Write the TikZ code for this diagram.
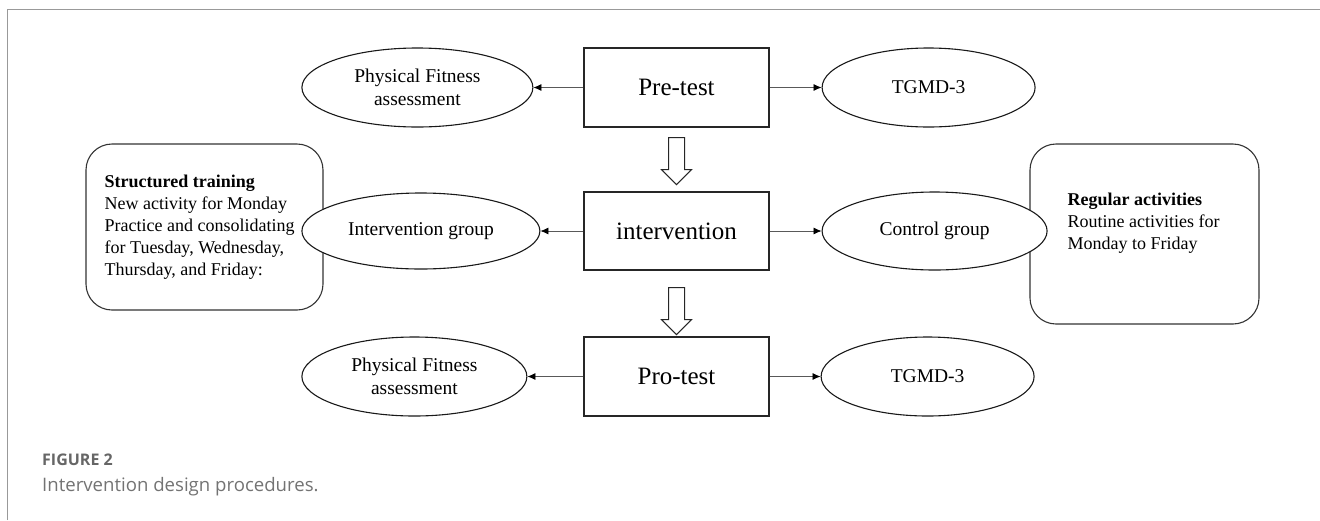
\documentclass[tikz,border=0pt]{standalone}
\usepackage{fontspec}
\setmainfont{Liberation Serif}
\newfontfamily\capfont{Open Sans}
\usetikzlibrary{positioning, arrows.meta, shapes.geometric, calc}

\begin{document}
\begin{tikzpicture}[
    x=1pt, y=-1pt,
    node distance=50pt,
    stage/.style={
        draw=black!85,
        line width=1.1pt,
        rectangle,
        minimum width=185pt,
        minimum height=79pt,
        inner sep=0pt,
        font=\fontsize{25}{30}\selectfont
    },
    oval/.style={
        draw=black!90,
        line width=1.1pt,
        ellipse,
        fill=white,
        inner sep=0pt,
        minimum height=79pt,
        align=center,
        font=\fontsize{19.5}{23}\selectfont
    },
    note/.style={
        draw=black!80,
        line width=1.1pt,
        rectangle,
        rounded corners=26pt,
        inner sep=0pt
    },
    notetext/.style={
        align=left,
        inner sep=0pt,
        font=\fontsize{18}{22}\selectfont
    },
    line/.style={
        draw=black!65,
        line width=0.8pt,
        -{Latex[length=8pt,width=7pt,color=black]}
    },
    hollow/.style={
        draw=black!85,
        line width=1pt,
        fill=white,
        line join=miter
    }
]
\useasboundingbox (0,0) rectangle (1320,520);

% --- Frame ---
\draw[black!40, line width=1pt] (7,520) -- (7,9) -- (1320,9);

% --- Side notes (behind the group ovals) ---
\node[note, minimum width=237pt, minimum height=166pt] (train) at (204.5,227) {};
\node[note, minimum width=229pt, minimum height=180pt] (regular) at (1144.5,234) {};

\node[notetext, right=19pt of train.west] (traintext) {\textbf{Structured training}\\New activity for Monday\\Practice and consolidating\\for Tuesday, Wednesday,\\Thursday, and Friday:};
\node[notetext, right=38pt of regular.west, yshift=11pt] (regulartext) {\textbf{Regular activities}\\Routine activities for\\Monday to Friday};

% --- Main stages ---
\node[stage] (pretest) at (676.5,87.5) {Pre-test};
\node[stage, minimum height=78pt] (interv) at (676.5,231) {intervention};
\node[stage] (protest) at (676.5,376.5) {Pro-test};

% --- Measures and groups ---
\node[oval, minimum width=231pt, left=50pt of pretest] (fit1) {Physical Fitness\\assessment};
\node[oval, minimum width=213pt, right=52pt of pretest] (tgmd1) {TGMD-3};

\node[oval, minimum width=238pt, minimum height=76pt, left=43pt of interv] (igroup) {Intervention group};
\node[oval, minimum width=225pt, minimum height=78pt, right=52pt of interv] (cgroup) {Control group};

\node[oval, minimum width=225pt, left=56pt of protest] (fit2) {Physical Fitness\\assessment};
\node[oval, minimum width=213pt, right=51pt of protest] (tgmd2) {TGMD-3};

% --- Connections ---
\draw[line] (pretest) -- (fit1);
\draw[line] (pretest) -- (tgmd1);
\draw[line] (interv) -- (igroup);
\draw[line] (interv) -- (cgroup);
\draw[line] (protest) -- (fit2);
\draw[line] (protest) -- (tgmd2);

% Block arrows between stages
\draw[hollow] ([xshift=-8pt]pretest.south) ++(0,10) -- ++(16,0) -- ++(0,32) -- ++(7,0) -- ++(-15,15) -- ++(-15,-15) -- ++(7,0) -- cycle;
\draw[hollow] ([xshift=-8pt]interv.south) ++(0,17) -- ++(16,0) -- ++(0,32) -- ++(7,0) -- ++(-15,15) -- ++(-15,-15) -- ++(7,0) -- cycle;

% --- Caption ---
\node[anchor=west, inner sep=0pt, text=black!60, font=\capfont\bfseries\fontsize{16}{19}\selectfont] (figlabel) at (42,460) {FIGURE 2};
\node[anchor=west, inner sep=0pt, text=black!55, font=\capfont\fontsize{18.6}{22}\selectfont] (figcaption) at (42,487) {Intervention design procedures.};

\end{tikzpicture}
\end{document}
